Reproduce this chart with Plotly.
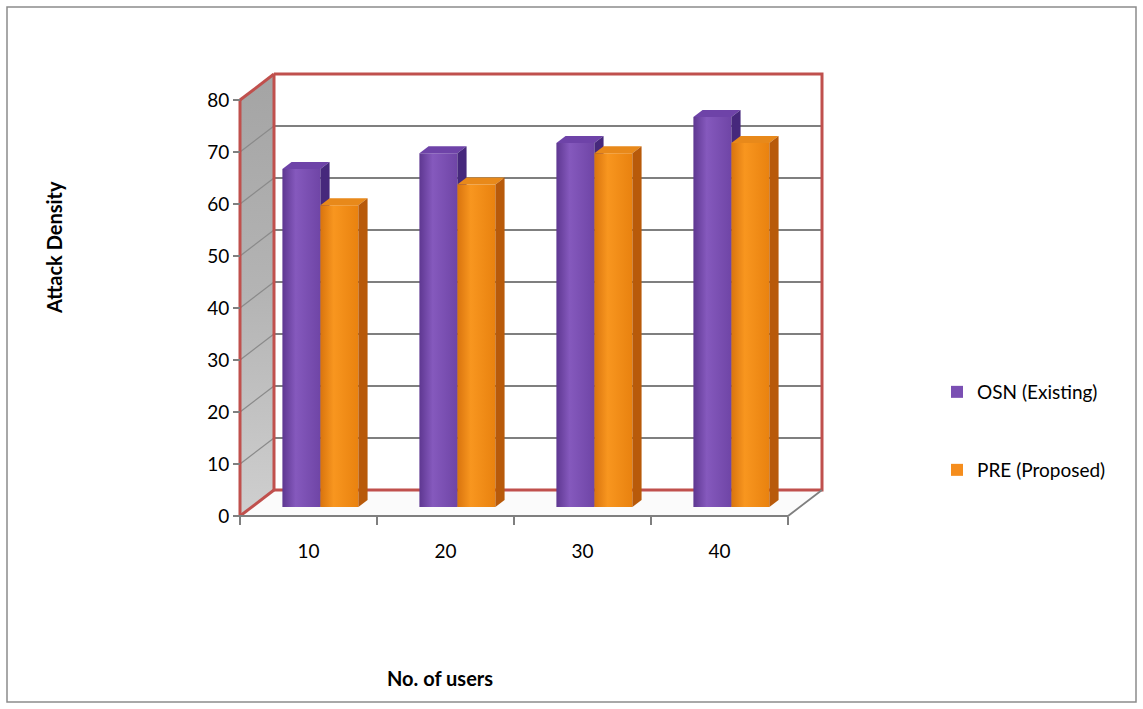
import plotly.graph_objects as go

# ---------------- data ----------------
categories = ["10", "20", "30", "40"]
osn_values = [65, 68, 70, 75]
pre_values = [58, 62, 68, 70]
series_names = ["OSN (Existing)", "PRE (Proposed)"]
y_ticks = [0, 10, 20, 30, 40, 50, 60, 70, 80]
y_title = "Attack Density"
x_title = "No. of users"

# ---------------- geometry / style ----------------
W, H = 1143, 709
X0_PX, CAT_PX = 240, 137          # left of floor, width of one category
Y0_PX, UNIT_PX = 516, 5.2         # pixel of value 0, pixels per value unit
DX = 34 / CAT_PX                  # depth shift (x units)
DY = 26 / UNIT_PX                 # depth shift (y units)
F0, F1 = 0.35, 0.62               # bar depth span (fraction of depth)
BW = 38 / CAT_PX                  # bar width (x units)
YMAX = y_ticks[-1]
NCAT = len(categories)

FONT = "Lato"
FS = 19
RED = "#c0504d"
GRID = "#7f7f7f"
styles = [
    dict(front=["#5e3791", "#8559bd", "#6f45a6"], top="#6e43a8", side="#46287c", legend="#7a4fb3"),
    dict(front=["#d9740e", "#f8961f", "#e9820f"], top="#e8891a", side="#b85a0a", legend="#f58d1d"),
]

fig = go.Figure()


def poly(xs, ys, **kw):
    fig.add_trace(go.Scatter(x=xs + [xs[0]], y=ys + [ys[0]], mode="lines", fill="toself",
                             hoverinfo="skip", showlegend=False, **kw))


def lines(xs, ys, color, width):
    fig.add_trace(go.Scatter(x=xs, y=ys, mode="lines", line=dict(color=color, width=width),
                             hoverinfo="skip", showlegend=False))


# ---------------- walls ----------------
poly([DX, NCAT + DX, NCAT + DX, DX], [DY, DY, YMAX + DY, YMAX + DY],
     fillcolor="white", line=dict(width=0))
poly([0, DX, DX, 0], [0, DY, YMAX + DY, YMAX],
     fillgradient=dict(type="vertical", colorscale=[[0, "#cfcfcf"], [0.5, "#b4b4b4"], [1, "#a4a4a4"]]),
     line=dict(width=0))
poly([0, NCAT, NCAT + DX, DX], [0, 0, DY, DY], fillcolor="#fbfbfb", line=dict(width=0))

gx, gy, lx, ly = [], [], [], []
for v in y_ticks[1:-1]:
    gx += [DX, NCAT + DX, None]
    gy += [v + DY, v + DY, None]
    lx += [0, DX, None]
    ly += [v, v + DY, None]
lines(gx, gy, GRID, 1.8)
lines(lx, ly, "#8a8a8a", 1.3)

lines([DX, NCAT + DX, NCAT + DX, DX, DX], [YMAX + DY, YMAX + DY, DY, DY, YMAX + DY], RED, 3)
lines([0, DX, None, 0, DX, None, 0, 0], [YMAX, YMAX + DY, None, 0, DY, None, 0, YMAX], RED, 3)
lines([0, NCAT, NCAT + DX], [0, 0, DY], GRID, 1.8)

# ---------------- bars ----------------
for s, (name, vals) in enumerate(zip(series_names, [osn_values, pre_values])):
    st = styles[s]
    centers = [i + 0.5 + (s - 0.5) * BW + F0 * DX for i in range(NCAT)]
    fig.add_trace(go.Bar(x=centers, y=vals, base=F0 * DY, width=BW, name=name,
                         marker=dict(color=st["legend"], line=dict(width=0)),
                         legend="legend" if s == 0 else "legend2"))
    dd = (F1 - F0) * DX
    for c, v in zip(centers, vals):
        xl, xr = c - BW / 2, c + BW / 2
        b0, b1 = F0 * DY, F1 * DY
        poly([xl, xr, xr, xl], [b0, b0, v + b0, v + b0],
             fillgradient=dict(type="horizontal",
                               colorscale=[[0, st["front"][0]], [0.35, st["front"][1]], [1, st["front"][2]]]),
             line=dict(width=0))
        poly([xl, xr, xr + dd, xl + dd], [v + b0, v + b0, v + b1, v + b1],
             fillcolor=st["top"], line=dict(width=0))
        poly([xr, xr + dd, xr + dd, xr], [b0, b1, v + b1, v + b0],
             fillcolor=st["side"], line=dict(width=0))

# ---------------- layout ----------------
x_range = [-X0_PX / CAT_PX, (W - X0_PX) / CAT_PX]
y_range = [-(H - Y0_PX) / UNIT_PX, Y0_PX / UNIT_PX]

fig.update_layout(
    width=W, height=H,
    margin=dict(l=0, r=0, t=0, b=0),
    paper_bgcolor="white", plot_bgcolor="white",
    font=dict(family=FONT, size=FS, color="#000000"),
    barmode="overlay",
    xaxis=dict(range=x_range, domain=[0, 1], anchor="free", position=(H - Y0_PX) / H,
               tickmode="array", tickvals=[i + 0.5 for i in range(NCAT)], ticktext=categories,
               ticks="", showgrid=False, zeroline=False, showline=False,
               ticklabelstandoff=22, tickfont=dict(size=FS),
               minor=dict(tickmode="array", tickvals=list(range(NCAT + 1)), ticks="outside",
                          ticklen=8, tickcolor=GRID, tickwidth=1.5, showgrid=False),
               fixedrange=True),
    yaxis=dict(range=y_range, domain=[0, 1], anchor="free", position=X0_PX / W,
               tickmode="array", tickvals=y_ticks, ticks="outside", ticklen=7,
               tickcolor=GRID, tickwidth=1.5, showgrid=False, zeroline=False, showline=False,
               tickfont=dict(size=FS), fixedrange=True),
    legend=dict(x=937 / W, y=1 - 392 / H, yanchor="middle", xanchor="left",
                font=dict(size=FS), bgcolor="rgba(0,0,0,0)"),
    legend2=dict(x=937 / W, y=1 - 470 / H, yanchor="middle", xanchor="left",
                 font=dict(size=FS), bgcolor="rgba(0,0,0,0)"),
    shapes=[dict(type="rect", xref="paper", yref="paper", x0=7 / W, x1=1 - 7 / W,
                 y0=7 / H, y1=1 - 7 / H, line=dict(color="#8c8c8c", width=1.5))],
    annotations=[
        dict(text="<b>" + y_title + "</b>", xref="paper", yref="paper", x=40 / W, y=1 - 248 / H,
             textangle=-90, showarrow=False, font=dict(size=20)),
        dict(text="<b>" + x_title + "</b>", xref="paper", yref="paper", x=440 / W, y=1 - 692 / H,
             showarrow=False, font=dict(size=20)),
    ],
)

fig.write_html("out.html")
